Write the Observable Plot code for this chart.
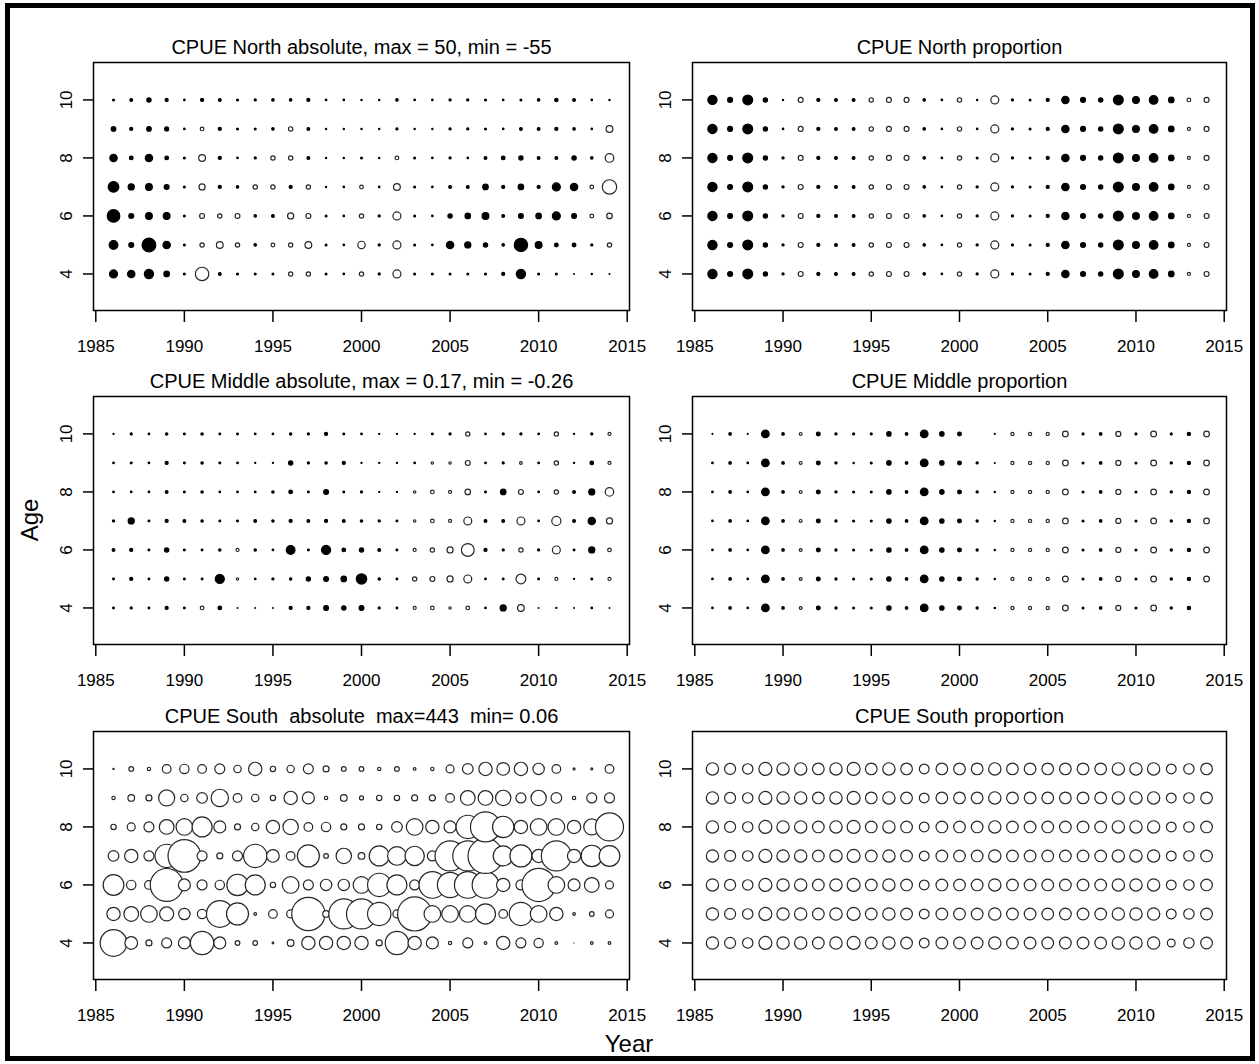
<!DOCTYPE html>
<html>
<head>
<meta charset="utf-8">
<script src="https://cdn.jsdelivr.net/npm/d3@7"></script>
<script src="https://cdn.jsdelivr.net/npm/@observablehq/plot@0.6"></script>
<style>
  body { margin: 0; background: #fff; }
  #fig { position: relative; width: 1259px; height: 1064px; background: #fff; overflow: hidden;
         font-family: "Liberation Sans", Arial, Helvetica, sans-serif; color: #000; }
  #fig svg { position: absolute; }
  #fig svg text { white-space: pre; }
  .frame { position: absolute; left: 5px; top: 3px; width: 1250px; height: 1058px; border: 5px solid #000; box-sizing: border-box; }
  .lab { position: absolute; font-size: 24px; line-height: 24px; white-space: pre; }
</style>
</head>
<body>
<div id="fig"><div class="frame"></div></div>
<script>
const years = [1986,1987,1988,1989,1990,1991,1992,1993,1994,1995,1996,1997,1998,1999,2000,
               2001,2002,2003,2004,2005,2006,2007,2008,2009,2010,2011,2012,2013,2014];
const ages = [4, 5, 6, 7, 8, 9, 10];
const xTicks = [1985, 1990, 1995, 2000, 2005, 2010, 2015];
const yTicks = [4, 6, 8, 10];

// rows: age 4, 5, 6, 7, 8, 9, 10 ; columns: years 1986..2014
const northAbsolute = [
  [16.9,14.4,22.5,8.1,0.9,-48,2.0,0.9,0.9,0.9,-4.9,-4.9,0.9,0.6, -4.9,1.2,-16.9,0.9,0.9,0.9,0.9,0.9,2.5,22.5,0.9,0.9,0.2,0.4,0.2],
  [20,6.4,50,14.4,0.9,-4.9,-12.1,-4.9,1.6,-3.6,-4.9,-12.1,0.9,0.6, -14.4,1.2,-16.9,0.9,0.6,14.4,10,4.9,1.6,47,12.1,3.6,3.6,1.2,-4.9],
  [42,6.4,12.1,12.1,0.9,-6.4,-4.9,-6.4,1.6,2.0,-10,-6.4,0.9,0.6, -4.9,1.2,-16.9,0.9,0.6,4.9,8.1,12.1,2.0,6.4,8.1,16.9,6.4,-3.6,-8.1],
  [30,10,12.1,6.4,0.9,-10,2.5,1.6,-4.9,-4.9,2.5,-4.9,0.4,0.6, -3.6,0.6,-12.1,0.9,0.6,2.0,2.0,8.1,2.5,8.1,2.5,16.9,14.4,-3.6,-55],
  [14.4,3.6,14.4,3.6,0.9,-12.1,2.5,0.6,1.2,-4.9,-4.9,2.0,0.4,0.4, 0.9,0.4,-3.6,0.9,0.6,1.2,0.6,2.0,3.6,4.9,2.0,2.0,4.9,1.6,-19.6],
  [5.6,2.5,5.6,4.2,0.6,-3.6,2.5,0.9,0.9,1.6,-4.9,2.0,0.4,0.4, 0.4,0.4,1.2,0.4,0.4,1.2,1.2,0.9,0.6,2.0,2.0,2.5,1.6,0.6,-12.1],
  [0.9,2.0,4.9,2.5,0.6,2.5,2.0,0.9,1.2,1.6,1.6,2.5,0.6,0.6, 0.4,0.4,1.6,0.6,0.6,1.2,1.2,0.9,0.6,0.9,1.6,3.0,2.0,0.6,0.4]
];

const northProportion = [
  [22.5,6.4,25.6,4.9,1.2,-6.4,2.5,2.0,2.0,-4.9,-6.4,-6.4,1.6,0.6, -4.9,1.2,-16.9,1.2,0.9,2.5,14.4,6.4,4.9,25.6,12.1,19.6,8.1,-2.5,-6.4],
  [22.5,6.4,25.6,4.9,1.2,-6.4,2.5,2.0,2.0,-4.9,-6.4,-6.4,1.6,0.6, -4.9,1.2,-16.9,1.2,0.9,2.5,14.4,6.4,4.9,25.6,12.1,19.6,8.1,-2.5,-6.4],
  [22.5,6.4,25.6,4.9,1.2,-6.4,2.5,2.0,2.0,-4.9,-6.4,-6.4,1.6,0.6, -4.9,1.2,-16.9,1.2,0.9,2.5,14.4,6.4,4.9,25.6,12.1,19.6,8.1,-2.5,-6.4],
  [22.5,6.4,25.6,4.9,1.2,-6.4,2.5,2.0,2.0,-4.9,-6.4,-6.4,1.6,0.6, -4.9,1.2,-16.9,1.2,0.9,2.5,14.4,6.4,4.9,25.6,12.1,19.6,8.1,-2.5,-6.4],
  [22.5,6.4,25.6,4.9,1.2,-6.4,2.5,2.0,2.0,-4.9,-6.4,-6.4,1.6,0.6, -4.9,0.9,-16.9,1.2,0.9,2.5,14.4,6.4,4.9,25.6,12.1,19.6,8.1,-2.5,-6.4],
  [22.5,6.4,25.6,4.9,0.6,-6.4,2.5,2.0,2.0,-4.9,-6.4,-6.4,1.6,0.6, -4.9,0.6,-16.9,1.2,0.9,2.5,14.4,6.4,4.9,25.6,12.1,19.6,8.1,-2.5,-6.4],
  [22.5,6.4,25.6,4.9,0.4,-6.4,2.5,2.0,2.0,-4.9,-6.4,-6.4,1.6,0.6, -4.9,0.4,-16.9,1.2,0.9,2.5,14.4,6.4,4.9,25.6,12.1,19.6,8.1,-3.6,-6.4]
];

const middleAbsolute = [
  [0.005,0.007,0.005,0.015,0.005,-0.021,0.021,0.001,0.001,0.001,0.015,0.015,0.038,0.029, 0.038,0.007,0.005,-0.015,-0.021,-0.009,-0.021,0.004,0.059,-0.071,0.001,0.002,0.001,0.004,0.001],
  [0.005,0.015,0.005,0.029,0.005,0.005,0.13,-0.009,0.004,0.007,0.009,0.029,0.038,0.048, 0.17,0.009,0.005,-0.029,-0.038,-0.059,-0.099,0.004,0.005,-0.151,0.005,-0.015,0.002,0.005,-0.015],
  [0.012,0.015,0.005,0.029,0.005,0.005,0.009,-0.015,0.009,0.004,0.12,0.005,0.13,0.021, 0.029,0.012,0.005,-0.015,-0.029,-0.059,-0.26,0.015,0.007,-0.029,0.007,-0.099,0.005,0.059,-0.021],
  [0.007,0.059,0.005,0.015,0.012,0.009,0.005,0.005,0.012,0.009,0.015,0.012,0.015,0.012, 0.009,0.007,0.005,-0.009,-0.021,-0.015,-0.099,0.012,0.012,-0.099,0.004,-0.132,0.012,0.085,-0.059],
  [0.004,0.004,0.004,0.012,0.005,0.009,0.004,0.004,0.004,0.009,0.021,0.005,0.038,0.005, 0.007,0.002,0.002,-0.009,-0.021,-0.015,-0.048,0.005,0.048,-0.038,0.004,-0.029,0.012,0.059,-0.115],
  [0.004,0.005,0.004,0.015,0.005,0.009,0.005,0.004,0.002,0.002,0.029,0.007,0.009,0.015, 0.002,0.002,0.002,0.004,-0.009,-0.009,-0.038,0.004,0.007,-0.012,0.004,-0.029,0.002,0.021,-0.015],
  [0.002,0.007,0.004,0.009,0.005,0.009,0.005,0.005,0.004,0.004,0.009,0.007,0.015,0.005, 0.004,0.002,0.002,0.002,0.005,0.007,-0.029,0.004,0.007,0.007,0.004,-0.029,0.002,0.007,-0.015]
];

const middleProportion = [
  [0.6,1.6,0.6,14.4,1.6,-2.0,3.6,1.2,0.9,0.9,4.9,1.6,14.4,4.9, 3.6,1.2,0.4,-2.5,-2.5,-2.5,-8.1,0.9,1.6,-6.4,0.9,-8.1,1.2,2.5,null],
  [0.6,1.6,0.6,14.4,1.6,-2.0,3.6,1.2,0.9,0.9,4.9,1.6,14.4,4.9, 3.6,1.2,0.4,-2.5,-2.5,-2.5,-8.1,0.9,1.6,-6.4,0.9,-8.1,1.2,2.5,-8.1],
  [0.6,1.6,0.6,14.4,1.6,-2.0,3.6,1.2,0.9,0.9,4.9,1.6,14.4,4.9, 3.6,1.2,0.4,-2.5,-2.5,-2.5,-8.1,0.9,1.6,-6.4,0.9,-8.1,1.2,2.5,-8.1],
  [0.6,1.6,0.6,14.4,1.6,-2.0,3.6,1.2,0.9,0.9,4.9,1.6,14.4,4.9, 3.6,1.2,0.4,-2.5,-2.5,-2.5,-8.1,0.9,1.6,-6.4,0.9,-8.1,1.2,2.5,-8.1],
  [0.6,1.6,0.6,14.4,1.6,-2.0,3.6,1.2,0.9,0.9,4.9,1.6,14.4,4.9, 3.6,1.2,0.4,-2.5,-2.5,-2.5,-8.1,0.9,1.6,-6.4,0.9,-8.1,1.2,2.5,-8.1],
  [0.6,1.6,0.6,14.4,1.6,-2.0,3.6,1.2,0.4,0.9,4.9,1.6,14.4,4.9, 3.6,1.2,0.2,-2.5,-2.5,-2.5,-8.1,0.9,1.6,-6.4,0.9,-8.1,1.2,2.5,-8.1],
  [0.2,1.6,0.2,14.4,1.6,-2.0,3.6,1.2,0.9,0.9,4.9,1.6,14.4,4.9, 3.6,null,0.2,-2.5,-2.5,-2.5,-8.1,0.9,1.6,-6.4,0.9,-8.1,0.9,2.5,-8.1]
];

const southAbsolute = [
  [257,58,13,36,52,197,52,7.9,7.9,1.0,16,64,64,64, 64,13,197,64,52,4,36,2.6,64,36,31.5,2.6,0.06,2.6,2.6],
  [64,78,100,71,46.5,31.5,257,175,2.6,27,23,400,16,326, 326,197,23,420,100,100,100,145,27,197,100,64,2.6,7.9,23],
  [155,31.5,27,390,52,36,31.5,165,145,10.3,100,36,46.5,46.5, 100,197,145,36,257,232,257,257,64,36,400,100,52,78,23],
  [41,64,36,197,386,36,13,36,197,58,27,175,7.9,85, 16,145,126,135,36,326,326,443,145,175,64,326,64,165,155],
  [10.3,23,36,78,100,145,52,13,19.5,64,85,27,31.5,13, 13,10.3,41,100,64,52,197,326,165,64,100,100,64,93,284],
  [4,16,13,93,19.5,41,109,27,19.5,10.3,64,52,4,16, 5.8,10.3,10.3,13,13,27,78,78,85,36,85,41,4,36,36],
  [0.5,7.9,4,27,31.5,27,36,19.5,64,10.3,19.5,36,13,7.9, 7.9,4,7.9,2.6,4,23,41,64,58,64,46.5,27,1.4,1.4,27]
];

const southProportion = [
  [36.1,28.9,25.6,40,36.1,36.1,32.4,36.1,40,32.4,36.1,32.4,22.5,32.4, 32.4,32.4,36.1,32.4,32.4,32.4,32.4,32.4,32.4,36.1,36.1,36.1,14.4,25.6,32.4],
  [36.1,28.9,25.6,40,36.1,36.1,32.4,36.1,40,32.4,36.1,32.4,22.5,32.4, 32.4,32.4,36.1,32.4,32.4,32.4,32.4,32.4,32.4,36.1,36.1,36.1,22.5,25.6,32.4],
  [36.1,28.9,25.6,40,36.1,36.1,32.4,36.1,40,32.4,36.1,32.4,22.5,32.4, 32.4,32.4,36.1,32.4,32.4,32.4,32.4,32.4,32.4,36.1,36.1,36.1,22.5,25.6,32.4],
  [36.1,28.9,25.6,40,36.1,36.1,32.4,36.1,40,32.4,36.1,32.4,22.5,32.4, 32.4,32.4,36.1,32.4,32.4,32.4,32.4,32.4,32.4,36.1,36.1,36.1,22.5,25.6,32.4],
  [36.1,28.9,25.6,40,36.1,36.1,32.4,36.1,40,32.4,36.1,32.4,22.5,32.4, 32.4,32.4,36.1,32.4,32.4,32.4,32.4,32.4,32.4,36.1,36.1,36.1,22.5,25.6,32.4],
  [36.1,28.9,25.6,40,36.1,36.1,32.4,36.1,40,32.4,36.1,32.4,22.5,32.4, 32.4,32.4,36.1,32.4,32.4,32.4,32.4,32.4,32.4,36.1,36.1,36.1,22.5,25.6,32.4],
  [36.1,28.9,25.6,40,36.1,36.1,32.4,36.1,40,32.4,36.1,32.4,22.5,32.4, 32.4,32.4,36.1,32.4,32.4,32.4,32.4,32.4,32.4,36.1,36.1,36.1,22.5,25.6,32.4]
];

const titles = [
  "CPUE North absolute, max = 50, min = -55",
  "CPUE North proportion",
  "CPUE Middle absolute, max = 0.17, min = -0.26",
  "CPUE Middle proportion",
  "CPUE South  absolute  max=443  min= 0.06",
  "CPUE South proportion"
];

const fig = document.getElementById("fig");

function panel(rows, opts) {
  const data = [];
  ages.forEach((age, i) => years.forEach((year, j) => {
    const v = rows[i][j];
    if (v === null || v === undefined) return;
    const open = opts.allOpen || v < 0;
    data.push({year, age, size: Math.abs(v), fc: open ? "white" : "black", sc: open ? "#262626" : "black"});
  }));
  const svg = Plot.plot({
    width: opts.width, height: 338,
    marginLeft: opts.ml, marginRight: opts.mr, marginTop: 40, marginBottom: 50,
    x: {domain: [1984.87, 2015.13]},
    y: {domain: [2.74, 11.29]},
    r: {type: "sqrt", domain: [0, opts.max], range: [0, opts.rmax]},
    color: {type: "identity"},
    style: {background: "transparent", overflow: "visible", fontFamily: "'Liberation Sans', Arial, Helvetica, sans-serif", color: "black"},
    marks: [
      Plot.dot(data, {x: "year", y: "age", r: "size", fill: "fc", stroke: "sc", strokeWidth: 1.2, sort: null}),
      Plot.frame({stroke: "black", strokeWidth: 1.5}),
      Plot.axisX({ticks: xTicks, tickFormat: d => String(d), tickSize: 12, tickPadding: 17, fontSize: 17, strokeWidth: 1.5, label: null}),
      Plot.axisY({ticks: yTicks, tickFormat: d => String(d), tickSize: 10, tickPadding: 12, tickRotate: -90, fontSize: 17, strokeWidth: 1.5, label: null}),
      Plot.text([opts.title], {text: d => d, frameAnchor: "top", dy: -9, lineAnchor: "bottom", fontSize: 20, fill: "black"})
    ]
  });
  svg.style.left = opts.left + "px";
  svg.style.top = opts.top + "px";
  fig.appendChild(svg);
}

const L = {left: 0, width: 640, ml: 93, mr: 11};
const R = {left: 630, width: 629, ml: 62, mr: 33};
const rowTops = [22, 356, 691];

panel(northAbsolute,    {...L, top: rowTops[0], max: 55,   rmax: 7.2, title: titles[0]});
panel(northProportion,  {...R, top: rowTops[0], max: 55,   rmax: 7.2, title: titles[1]});
panel(middleAbsolute,   {...L, top: rowTops[1], max: 0.26, rmax: 6.4, title: titles[2]});
panel(middleProportion, {...R, top: rowTops[1], max: 55,   rmax: 7.4, title: titles[3]});
panel(southAbsolute,    {...L, top: rowTops[2], max: 443,  rmax: 17.5, title: titles[4], allOpen: true});
panel(southProportion,  {...R, top: rowTops[2], max: 55,   rmax: 7.6, title: titles[5], allOpen: true});

// outer axis titles
const age = document.createElement("div");
age.className = "lab";
age.textContent = "Age";
age.style.left = "30px"; age.style.top = "520px";
age.style.transform = "translate(-50%,-50%) rotate(-90deg)";
fig.appendChild(age);

const yr = document.createElement("div");
yr.className = "lab";
yr.textContent = "Year";
yr.style.left = "629px"; yr.style.top = "1044px";
yr.style.transform = "translate(-50%,-50%)";
fig.appendChild(yr);
</script>
</body>
</html>
